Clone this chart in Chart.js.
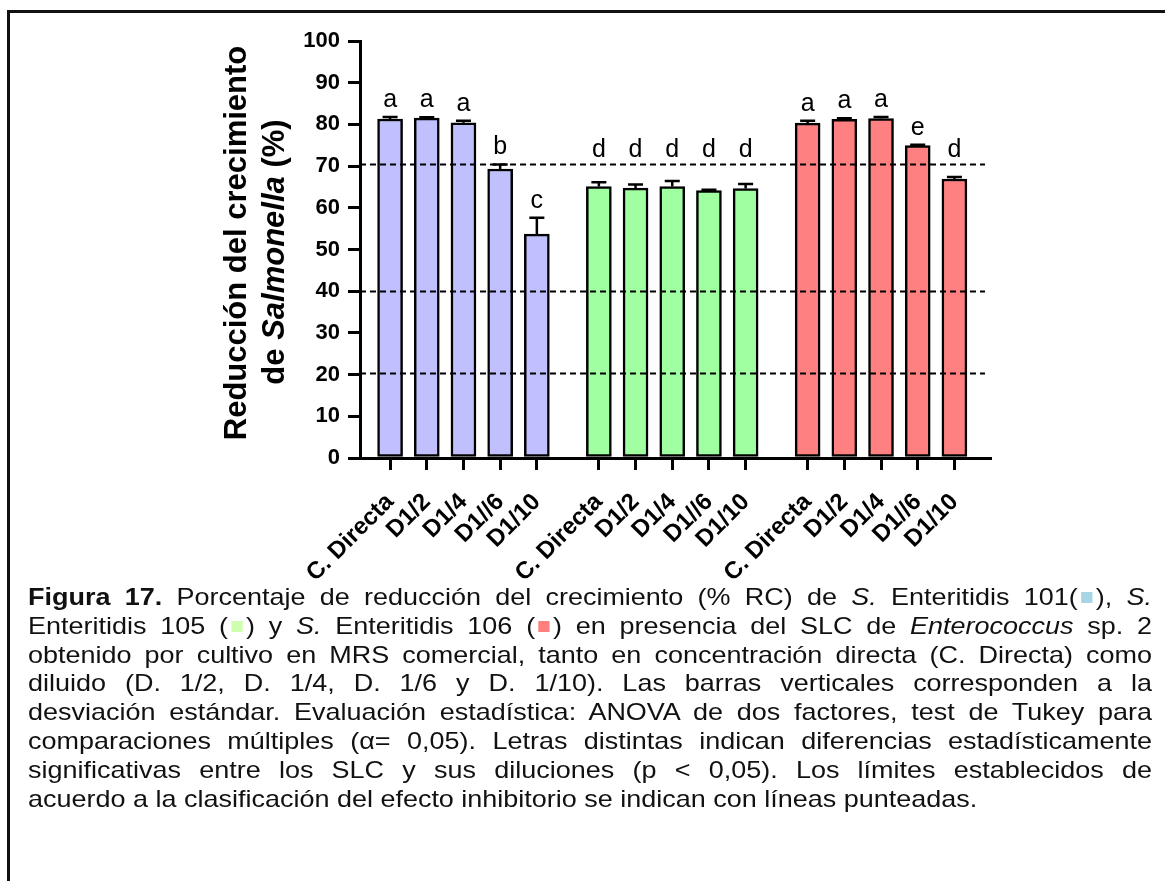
<!DOCTYPE html>
<html>
<head>
<meta charset="utf-8">
<script src="https://cdn.jsdelivr.net/npm/chart.js@4.4.0/dist/chart.umd.min.js"></script>
<style>
  html, body { margin: 0; padding: 0; background: #fff; }
  body { width: 1165px; height: 881px; position: relative; overflow: hidden;
         font-family: "Liberation Sans", Arial, Helvetica, sans-serif; color: #111; }
  #frame { position: absolute; left: 7px; top: 10px; width: 1200px; height: 900px;
           border-left: 3px solid #111; border-top: 3px solid #111; }
  #wrap { position: absolute; left: 0; top: 0; width: 1165px; height: 600px; }
  /* the caption is set in a slightly expanded (wide) face */
  #caption { position: absolute; left: 28px; top: 583px; width: 1000px;
             font-size: 24px; line-height: 28.8px;
             transform: scaleX(1.124); transform-origin: 0 0; }
  #caption div { text-align: justify; text-align-last: justify; }
  #caption div.last { text-align-last: left; }
  .sq { display: inline-block; width: 10px; height: 11px; margin: 0 3px; vertical-align: 2px; }
</style>
</head>
<body>
<div id="frame"></div>
<div id="wrap"><canvas id="chart" width="1165" height="600"></canvas></div>
<div id="caption">
  <div><b>Figura 17.</b> Porcentaje de reducción del crecimiento (% RC) de <i>S.</i> Enteritidis 101(<span class="sq" style="background:#a8d5e6"></span>), <i>S.</i></div>
  <div>Enteritidis 105 (<span class="sq" style="background:#cdffae"></span>) y <i>S.</i> Enteritidis 106 (<span class="sq" style="background:#ff7f7f"></span>) en presencia del SLC de <i>Enterococcus</i> sp. 2</div>
  <div>obtenido por cultivo en MRS comercial, tanto en concentración directa (C. Directa) como</div>
  <div>diluido (D. 1/2, D. 1/4, D. 1/6 y D. 1/10). Las barras verticales corresponden a la</div>
  <div>desviación estándar. Evaluación estadística: ANOVA de dos factores, test de Tukey para</div>
  <div>comparaciones múltiples (α= 0,05). Letras distintas indican diferencias estadísticamente</div>
  <div>significativas entre los SLC y sus diluciones (p &lt; 0,05). Los límites establecidos de</div>
  <div class="last">acuerdo a la clasificación del efecto inhibitorio se indican con líneas punteadas.</div>
</div>

<script>
// Dilution levels (same for every strain)
const categories = ['C. Directa', 'D1/2', 'D1/4', 'D1//6', 'D1/10'];

// % growth reduction (mean) and standard deviation per strain
const se101 = [81.3, 81.5, 80.4, 69.3, 53.7];
const sd101 = [0.5, 0.2, 0.5, 1.1, 3.9];
const se105 = [65.1, 64.7, 65.1, 64.1, 64.6];
const sd105 = [1.0, 0.9, 1.3, 0.2, 1.1];
const se106 = [80.3, 81.2, 81.4, 74.9, 66.9];
const sd106 = [0.6, 0.3, 0.4, 0.2, 0.5];

// Tukey grouping letters
const letters101 = ['a', 'a', 'a', 'b', 'c'];
const letters105 = ['d', 'd', 'd', 'd', 'd'];
const letters106 = ['a', 'a', 'a', 'e', 'd'];

// Inhibition classification limits (dashed lines)
const limits = [20.5, 40, 70.5];

// Y axis tick values
const yTicks = [0, 10, 20, 30, 40, 50, 60, 70, 80, 90, 100];

// Layout: slot distance between the first bars of consecutive strain groups
const GROUP_STRIDE = 5.69;
const FONT = '"Liberation Sans", Arial, Helvetica, sans-serif';

const groups = [
  { values: se101, sd: sd101, letters: letters101, color: '#c0c0ff' },
  { values: se105, sd: sd105, letters: letters105, color: '#a0ffa0' },
  { values: se106, sd: sd106, letters: letters106, color: '#ff8080' }
];

const tickPositions = [];
groups.forEach((g, gi) => categories.forEach((c, i) => tickPositions.push(gi * GROUP_STRIDE + i)));

const datasets = groups.map((g, gi) => ({
  data: g.values.map((v, i) => ({ x: gi * GROUP_STRIDE + i, y: v })),
  backgroundColor: g.color,
  borderColor: '#000',
  borderWidth: 2.5,
  borderSkipped: false,
  barThickness: 25,
  grouped: false,
  sd: g.sd,
  letters: g.letters
}));

// Dashed threshold lines, error bars and significance letters
const overlays = {
  id: 'overlays',
  afterDatasetsDraw(chart) {
    const { ctx, chartArea, scales } = chart;
    const y = scales.y;
    ctx.save();
    ctx.strokeStyle = '#000';
    ctx.lineWidth = 2;
    ctx.setLineDash([6, 4]);
    limits.forEach(l => {
      const py = Math.round(y.getPixelForValue(l)) + 0.5;
      ctx.beginPath();
      ctx.moveTo(chartArea.left, py);
      ctx.lineTo(chartArea.right - 5, py);
      ctx.stroke();
    });
    ctx.setLineDash([]);
    const limitPx = limits.map(l => y.getPixelForValue(l));
    chart.data.datasets.forEach((ds, di) => {
      const meta = chart.getDatasetMeta(di);
      meta.data.forEach((bar, i) => {
        const v = ds.data[i].y;
        const top = y.getPixelForValue(v + ds.sd[i]);
        const base = y.getPixelForValue(v);
        ctx.strokeStyle = '#000';
        ctx.lineWidth = 2.5;
        ctx.beginPath();
        ctx.moveTo(bar.x, base);
        ctx.lineTo(bar.x, top);
        ctx.moveTo(bar.x - 7.5, top);
        ctx.lineTo(bar.x + 7.5, top);
        ctx.stroke();

        let baseline = top - 10;
        limitPx.forEach(lp => {
          if (lp > baseline - 18 && lp < baseline + 3) baseline = lp - 7;
        });
        ctx.fillStyle = '#000';
        ctx.font = '25px ' + FONT;
        ctx.textAlign = 'center';
        ctx.textBaseline = 'alphabetic';
        ctx.fillText(ds.letters[i], bar.x, baseline);
      });
    });
    ctx.restore();
  }
};

// Two-line vertical axis title with the genus name in italics
const yTitle = {
  id: 'yTitle',
  afterDraw(chart) {
    const { ctx } = chart;
    ctx.save();
    ctx.fillStyle = '#000';
    ctx.textBaseline = 'alphabetic';
    ctx.textAlign = 'left';
    const bold = 'bold 31px ' + FONT;
    const boldIt = 'italic bold 31px ' + FONT;

    ctx.save();
    ctx.translate(246, 243);
    ctx.rotate(-Math.PI / 2);
    ctx.font = bold;
    const l1 = 'Reducción del crecimiento';
    ctx.fillText(l1, -ctx.measureText(l1).width / 2, 0);
    ctx.restore();

    const parts = [['de ', bold], ['Salmonella', boldIt], [' (%)', bold]];
    let total = 0;
    parts.forEach(p => { ctx.font = p[1]; total += ctx.measureText(p[0]).width; });
    ctx.save();
    ctx.translate(284, 252);
    ctx.rotate(-Math.PI / 2);
    let x = -total / 2;
    parts.forEach(p => {
      ctx.font = p[1];
      ctx.fillText(p[0], x, 0);
      x += ctx.measureText(p[0]).width;
    });
    ctx.restore();
    ctx.restore();
  }
};

new Chart(document.getElementById('chart'), {
  type: 'bar',
  data: { datasets },
  plugins: [overlays, yTitle],
  options: {
    responsive: false,
    maintainAspectRatio: false,
    animation: false,
    devicePixelRatio: 1,
    layout: { padding: { left: 300, right: 175, top: 41, bottom: 2 } },
    plugins: { legend: { display: false }, tooltip: { enabled: false } },
    scales: {
      x: {
        type: 'linear',
        offset: false,
        min: -0.82,
        max: 16.35,
        afterBuildTicks: s => { s.ticks = tickPositions.map(v => ({ value: v })); },
        afterFit: s => { s.height = 140; },
        ticks: {
          autoSkip: false,
          minRotation: 45,
          maxRotation: 45,
          padding: 18,
          color: '#000',
          font: { family: FONT, size: 24, weight: 'bold' },
          callback: (v, i) => categories[i % categories.length]
        },
        grid: { offset: false, drawOnChartArea: false, tickLength: 12, lineWidth: 3, tickWidth: 3, tickColor: '#000', color: '#000' },
        border: { display: true, color: '#000', width: 3 }
      },
      y: {
        min: 0,
        max: 100,
        afterBuildTicks: s => { s.ticks = yTicks.map(v => ({ value: v })); },
        afterFit: s => { s.width = 60; },
        ticks: {
          padding: 8,
          color: '#000',
          font: { family: FONT, size: 22, weight: 'bold' }
        },
        grid: { drawOnChartArea: false, tickLength: 12, lineWidth: 3, tickWidth: 3, tickColor: '#000', color: '#000' },
        border: { display: true, color: '#000', width: 3 }
      }
    }
  }
});
</script>
</body>
</html>
